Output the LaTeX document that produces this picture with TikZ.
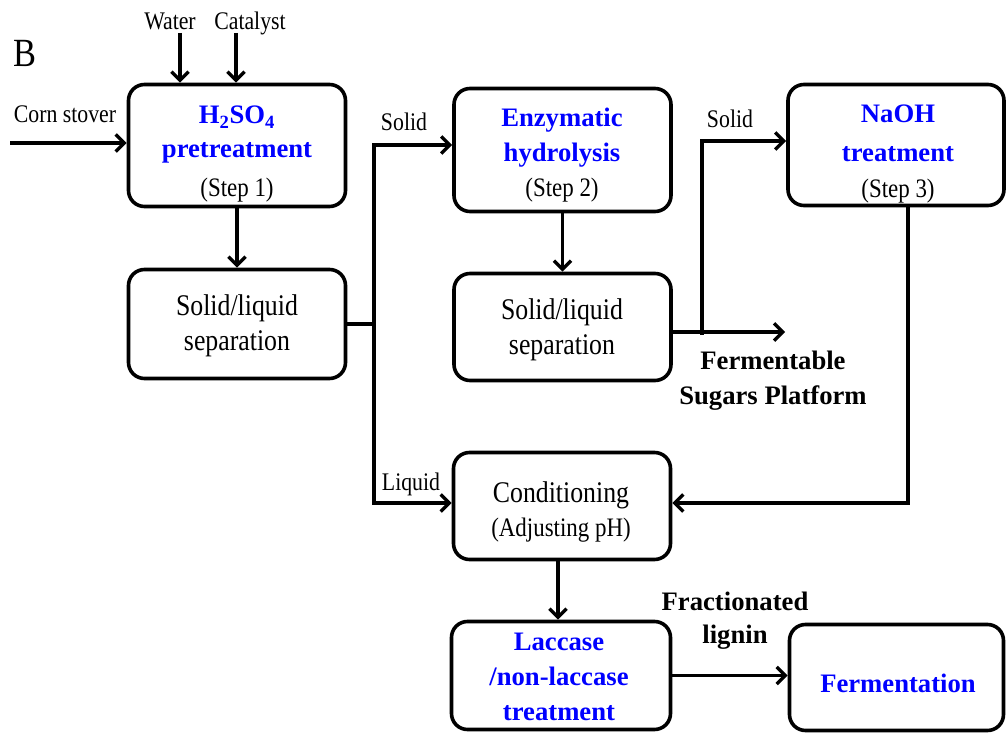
\documentclass[tikz,border=0pt]{standalone}
\usepackage{fontspec}
\setmainfont{Liberation Serif}
\newfontfamily\cnd{Liberation Serif}[FakeStretch=0.86]
\usetikzlibrary{arrows.meta}
\begin{document}
\begin{tikzpicture}[x=0.75pt,y=-0.75pt,
  box/.style={draw, line width=2.7pt, rounded corners=12pt, inner sep=0pt},
  conn/.style={line width=2.5pt},
  arr/.style={conn, -{Straight Barb[length=6.5pt,width=13pt]}},
  btxt/.style={anchor=base, inner sep=0pt, text=blue, font=\bfseries\fontsize{20}{24}\selectfont},
  ktxt/.style={anchor=base, inner sep=0pt, font=\bfseries\fontsize{20}{24}\selectfont},
  rtxt/.style={anchor=base, inner sep=0pt, font=\cnd\fontsize{22.5}{26}\selectfont},
  stxt/.style={anchor=base, inner sep=0pt, font=\cnd\fontsize{20}{24}\selectfont},
  ltxt/.style={anchor=base, inner sep=0pt, font=\cnd\fontsize{19}{22}\selectfont},
]
\useasboundingbox (0,0) rectangle (1008,734);

% process boxes
\node[box, minimum width=162.75pt, minimum height=91.5pt]  (b1)   at (237,145.5) {};
\node[box, minimum width=162.75pt, minimum height=81.75pt] (s1)   at (237,324) {};
\node[box, minimum width=162.75pt, minimum height=92.25pt] (b2)   at (562.5,150) {};
\node[box, minimum width=162.75pt, minimum height=80.25pt] (s2)   at (562.5,327) {};
\node[box, minimum width=162pt,    minimum height=90.75pt] (b3)   at (896,145) {};
\node[box, minimum width=162.75pt, minimum height=80.25pt] (cond) at (562,506) {};
\node[box, minimum width=164.25pt, minimum height=81pt]    (lac)  at (561,675.5) {};
\node[box, minimum width=160.5pt,  minimum height=79.5pt]  (ferm) at (896.5,677.5) {};

% box texts
\node[btxt] (t1a) at (237,124) {H\textsubscript{2}SO\textsubscript{4}};
\node[btxt] (t1b) at (237,158) {pretreatment};
\node[stxt] (t1c) at (237,197) {(Step 1)};
\node[rtxt] (t2a) at (237,316) {Solid/liquid};
\node[rtxt] (t2b) at (237,351) {separation};
\node[btxt] (t3a) at (562,127) {Enzymatic};
\node[btxt] (t3b) at (562,162) {hydrolysis};
\node[stxt] (t3c) at (562,197) {(Step 2)};
\node[rtxt] (t4a) at (562,320) {Solid/liquid};
\node[rtxt] (t4b) at (562,355) {separation};
\node[btxt] (t5a) at (898,123) {NaOH};
\node[btxt] (t5b) at (898,162) {treatment};
\node[stxt] (t5c) at (898,198) {(Step 3)};
\node[rtxt] (t6a) at (561,503) {Conditioning};
\node[stxt] (t6b) at (561,537) {(Adjusting pH)};
\node[btxt] (t7a) at (559,650) {Laccase};
\node[btxt] (t7b) at (559,685) {/non-laccase};
\node[btxt] (t7c) at (559,720) {treatment};
\node[btxt] (t8)  at (898,692) {Fermentation};

% free labels
\node[anchor=base, inner sep=0pt, font=\cnd\fontsize{30}{34}\selectfont] (lb) at (25,67) {B};
\node[ltxt] (lcs) at (65,123) {Corn stover};
\node[ltxt] (lw)  at (170,30) {Water};
\node[ltxt] (lc)  at (250,30) {Catalyst};
\node[ltxt] (ls1) at (404,131) {Solid};
\node[ltxt] (ls2) at (730,128) {Solid};
\node[ltxt] (lli) at (411,491) {Liquid};
\node[ktxt] (lfa) at (773,370) {Fermentable};
\node[ktxt] (lfb) at (773,405) {Sugars Platform};
\node[ktxt] (lga) at (735,610) {Fractionated};
\node[ktxt] (lgb) at (735,643) {lignin};

% feeds into step 1
\coordinate (cs) at (10,143);
\coordinate (wa) at (180,33);
\coordinate (ca) at (236,33);
\draw[arr] (cs) -- (cs -| b1.west);
\draw[arr] (wa) -- (wa |- b1.north);
\draw[arr] (ca) -- (ca |- b1.north);
\draw[arr] (b1.south) -- (s1.north);

% solid / liquid split after step 1
\coordinate (j1t) at (374,145);
\coordinate (j1b) at (374,503);
\draw[conn] (s1.east) -- (s1.east -| j1t);
\draw[arr] (j1b) -- (j1t) -- (j1t -| b2.west);
\draw[arr] (j1t) -- (j1b) -- (j1b -| cond.west);

% step 2 and its split
\draw[arr] (b2.south) -- (s2.north);
\coordinate (j2b) at (702,335);
\coordinate (j2t) at (702,141);
\coordinate (fs)  at (785,332);
\draw[arr] (s2.east |- fs) -- (fs);
\draw[arr] (j2b) -- (j2t) -- (j2t -| b3.west);

% step 3 back to conditioning
\coordinate (n3) at (908,503);
\draw[arr] (n3 |- b3.south) -- (n3) -- (n3 -| cond.east);

% conditioning to laccase to fermentation
\coordinate (ax) at (558,0);
\draw[arr] (ax |- cond.south) -- (ax |- lac.north);
\draw[arr] (lac.east) -- (lac.east -| ferm.west);
\end{tikzpicture}
\end{document}
